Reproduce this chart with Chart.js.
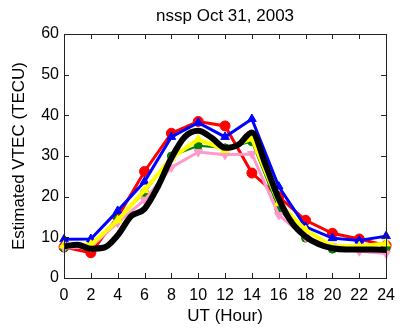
<!DOCTYPE html>
<html>
<head>
<meta charset="utf-8">
<script src="https://cdn.jsdelivr.net/npm/chart.js@4.4.1/dist/chart.umd.min.js"></script>
<style>
  html, body { margin: 0; padding: 0; background: #fff; }
  #wrap { width: 403px; height: 328px; }
</style>
</head>
<body>
<div id="wrap"><canvas id="mycanvas" width="403" height="328"></canvas></div>
<script>
// two-hourly station estimates
var hours2 = [0, 2, 4, 6, 8, 10, 12, 14, 16, 18, 20, 22, 24];
var red    = [7.6, 6.2, 15, 26.2, 35.6, 38.5, 37.4, 25.8, 20, 14.2, 11, 9.6, 8];
var blue   = [9.5, 9.6, 16.5, 23.7, 34.7, 38.2, 34.7, 39.1, 22.5, 12.6, 9.8, 9.2, 10.3];
var green  = [7.4, 8, 14.5, 21, 30, 32.5, 32, 33.5, 17, 9.8, 7.1, 7.2, 7.2];
var yellow = [8, 8.2, 14.2, 21.6, 29.5, 34.1, 31.5, 34.3, 18.4, 11.8, 7.8, 7.8, 8.5];
var pink   = [7.4, 7.6, 13.6, 19.2, 27.2, 31, 30.3, 30.5, 15.5, 10, 7.8, 6.6, 6];

// hourly mean curve
var hours1 = [0, 1, 2, 3, 4, 5, 6, 7, 8, 9, 10, 11, 12, 13, 14, 15, 16, 17, 18, 19, 20, 21, 22, 23, 24];
var mean   = [7.8, 8.2, 7.2, 7.5, 10.5, 15.2, 17, 22.5, 29.5, 34.7, 36.2, 34.5, 32, 32.8, 35.8, 28, 19.5, 13.5, 10.2, 8.3, 7.3, 7, 7, 7, 6.9];

var yTicks = [0, 10, 20, 30, 40, 50, 60];
var xTicks = [0, 2, 4, 6, 8, 10, 12, 14, 16, 18, 20, 22, 24];

function pts(xs, ys) {
  var out = [];
  for (var i in xs) out.push({x: xs[i], y: ys[i]});
  return out;
}

function series(data, color, width, shape, radius, rot, order) {
  return {
    data: data,
    borderColor: color,
    backgroundColor: color,
    borderWidth: width,
    pointStyle: shape,
    pointRadius: radius,
    pointRotation: rot,
    pointBackgroundColor: color,
    pointBorderColor: color,
    pointBorderWidth: 1,
    tension: 0,
    clip: 10,
    order: order
  };
}

var FONT = 'Liberation Sans, Arial, sans-serif';

// matlab style box, inward ticks and labels
var frame = {
  id: 'frame',
  afterDraw: function(chart) {
    var c = chart.ctx, a = chart.chartArea;
    var sx = chart.scales.x, sy = chart.scales.y;
    c.save();
    c.strokeStyle = '#222';
    c.lineWidth = 1;
    c.strokeRect(Math.round(a.left) + 0.5, Math.round(a.top) + 0.5,
                 Math.round(a.right - a.left), Math.round(a.bottom - a.top));
    c.beginPath();
    xTicks.forEach(function(t) {
      var px = Math.round(sx.getPixelForValue(t)) + 0.5;
      c.moveTo(px, a.bottom); c.lineTo(px, a.bottom - 5);
      c.moveTo(px, a.top); c.lineTo(px, a.top + 5);
    });
    yTicks.forEach(function(t) {
      var py = Math.round(sy.getPixelForValue(t)) + 0.5;
      c.moveTo(a.left, py); c.lineTo(a.left + 5, py);
      c.moveTo(a.right, py); c.lineTo(a.right - 5, py);
    });
    c.stroke();

    c.fillStyle = '#000';
    c.font = '17px ' + FONT;
    c.textAlign = 'center';
    c.textBaseline = 'alphabetic';
    c.fillText('nssp Oct 31, 2003', (a.left + a.right) / 2, 21);
    c.fillText('UT (Hour)', (a.left + a.right) / 2, 321);
    c.translate(24, (a.top + a.bottom) / 2);
    c.rotate(-Math.PI / 2);
    c.fillText('Estimated VTEC (TECU)', 0, 0);
    c.restore();
  }
};

var ctx = document.getElementById('mycanvas');

var lineGraph = new Chart(ctx, {
  type: 'line',
  data: {
    datasets: [
      series(pts(hours2, red), '#ff0000', 3, 'circle', 5, 0, 6),
      series(pts(hours2, green), '#008000', 2, 'circle', 4, 0, 5),
      series(pts(hours2, pink), '#ff99cc', 3, 'triangle', 5, 180, 4),
      series(pts(hours2, blue), '#0000ff', 3, 'triangle', 5, 0, 3),
      series(pts(hours2, yellow), '#ffff00', 4, 'triangle', 5, 0, 2),
      Object.assign(series(pts(hours1, mean), '#000000', 6, 'circle', 0, 0, 1), {tension: 0.4, cubicInterpolationMode: 'monotone'})
    ]
  },
  options: {
    responsive: false,
    animation: false,
    events: [],
    layout: { padding: { top: 34, right: 12, left: 0, bottom: 0 } },
    plugins: { legend: { display: false }, title: { display: false }, tooltip: { enabled: false } },
    scales: {
      x: {
        type: 'linear', min: 0, max: 24,
        afterFit: function(s) { s.height = 50; },
        afterBuildTicks: function(s) { s.ticks = xTicks.map(function(v) { return {value: v}; }); },
        grid: { display: false, drawTicks: false },
        border: { display: false },
        ticks: { color: '#000', font: { family: FONT, size: 16 }, padding: 8, maxRotation: 0, autoSkip: false }
      },
      y: {
        min: 0, max: 60,
        afterFit: function(s) { s.width = 64; },
        afterBuildTicks: function(s) { s.ticks = yTicks.map(function(v) { return {value: v}; }); },
        grid: { display: false, drawTicks: false },
        border: { display: false },
        ticks: { color: '#000', font: { family: FONT, size: 16 }, padding: 5 }
      }
    }
  },
  plugins: [frame]
});
</script>
</body>
</html>
